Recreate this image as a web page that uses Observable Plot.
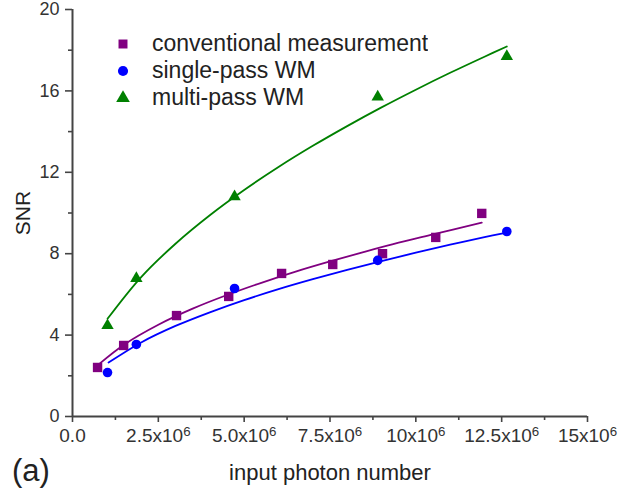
<!DOCTYPE html>
<html>
<head>
<meta charset="utf-8">
<script src="https://cdn.jsdelivr.net/npm/d3@7"></script>
<script src="https://cdn.jsdelivr.net/npm/@observablehq/plot@0.6"></script>
<style>
  html, body { margin: 0; padding: 0; background: #fff; }
  #wrap { position: relative; width: 631px; height: 488px; font-family: "Liberation Sans", Arial, sans-serif; }
  #legend { position: absolute; left: 114px; top: 30px; width: 460px; }
  #legend .lg-swatch { font-size: 23px; height: 27px; padding-bottom: 0; color: #222; font-family: "Liberation Sans", Arial, sans-serif; }
  #legend .lg-swatch > svg { margin-right: 20px; }
  #legend .lg-swatches { margin: 0; font-family: "Liberation Sans", Arial, sans-serif; }
  #panel { position: absolute; left: 12px; top: 453px; font-size: 31px; color: #222; font-family: "Liberation Sans", Arial, sans-serif; }
</style>
</head>
<body>
<div id="wrap"><div id="chart"></div><div id="legend"></div><div id="panel">(a)</div></div>
<script>
// ---- data ----
const seriesNames = ["conventional measurement", "single-pass WM", "multi-pass WM"];
const seriesColors = ["#800080", "#0000ff", "#008000"];
const seriesSymbols = ["square", "circle", "triangle"];

// measured points (photon number, SNR)
const convX = [0.73e6, 1.49e6, 3.03e6, 4.55e6, 6.09e6, 7.58e6, 9.03e6, 10.58e6, 11.92e6];
const convY = [2.41, 3.49, 4.96, 5.90, 7.03, 7.47, 8.00, 8.80, 9.98];
const singleX = [1.02e6, 1.86e6, 4.72e6, 8.89e6, 12.65e6];
const singleY = [2.16, 3.54, 6.29, 7.67, 9.09];
const multiX = [1.02e6, 1.86e6, 4.72e6, 8.89e6, 12.65e6];
const multiY = [4.47, 6.78, 10.80, 15.70, 17.70];

// fitted curves
const convFitX = [0.79e6, 1.5e6, 2.5e6, 3.5e6, 4.5e6, 5.5e6, 6.5e6, 7.5e6, 8.5e6, 9.5e6, 10.5e6, 11.92e6];
const convFitY = [2.60, 3.53, 4.51, 5.30, 5.97, 6.57, 7.12, 7.62, 8.09, 8.54, 8.95, 9.53];
const singleFitX = [1.05e6, 2e6, 3e6, 4e6, 5e6, 6e6, 7e6, 8e6, 9e6, 10e6, 11e6, 12e6, 12.65e6];
const singleFitY = [2.65, 3.64, 4.45, 5.12, 5.72, 6.26, 6.75, 7.21, 7.64, 8.05, 8.44, 8.81, 9.04];
const multiFitX = [1.02e6, 2e6, 3e6, 4e6, 5e6, 6e6, 7e6, 8e6, 9e6, 10e6, 11e6, 12e6, 12.65e6];
const multiFitY = [4.80, 6.85, 8.49, 9.89, 11.13, 12.26, 13.30, 14.27, 15.19, 16.06, 16.89, 17.68, 18.18];

// ticks
const xMajor = [0, 2.5e6, 5e6, 7.5e6, 10e6, 12.5e6, 15e6];
const xTickLabels = ["0.0", "2.5x10⁶", "5.0x10⁶", "7.5x10⁶", "10x10⁶", "12.5x10⁶", "15x10⁶"];
const xMinor = [1.25e6, 3.75e6, 6.25e6, 8.75e6, 11.25e6, 13.75e6];
const yMajor = [0, 4, 8, 12, 16, 20];
const yTickLabels = ["0", "4", "8", "12", "16", "20"];
const yMinor = [2, 6, 10, 14, 18];

// ---- build tables ----
const pts = (xs, ys, s) => xs.map((x, i) => ({x, y: ys[i], series: s}));
const conv = pts(convX, convY, seriesNames[0]);
const single = pts(singleX, singleY, seriesNames[1]);
const multi = pts(multiX, multiY, seriesNames[2]);
const convFit = pts(convFitX, convFitY, seriesNames[0]);
const singleFit = pts(singleFitX, singleFitY, seriesNames[1]);
const multiFit = pts(multiFitX, multiFitY, seriesNames[2]);

const xLab = new Map(xMajor.map((v, i) => [v, xTickLabels[i]]));
const yLab = new Map(yMajor.map((v, i) => [v, yTickLabels[i]]));
const axisColor = "#444";

const chart = Plot.plot({
  width: 631, height: 488,
  marginLeft: 72, marginRight: 44, marginTop: 9, marginBottom: 72,
  style: {fontFamily: "'Liberation Sans', Arial, sans-serif", fontSize: "18px", color: "#333", background: "#fff", overflow: "visible"},
  x: {domain: [0, 15e6]},
  y: {domain: [0, 20]},
  color: {domain: seriesNames, range: seriesColors},
  symbol: {domain: seriesNames, range: seriesSymbols},
  marks: [
    Plot.axisY(yMajor, {tickSize: 7, tickPadding: 6, tickFormat: d => yLab.get(d), stroke: axisColor, strokeWidth: 1.6, fontSize: 18, label: null}),
    Plot.axisY(yMinor, {tickSize: 4, tickFormat: () => "", stroke: axisColor, strokeWidth: 1.6, label: null}),
    Plot.axisY({ticks: [], label: "SNR", labelAnchor: "center", labelArrow: "none", labelOffset: 57, fontSize: 21, color: "#222"}),
    Plot.axisX(xMajor, {tickSize: 6, tickPadding: 6, tickFormat: d => xLab.get(d), stroke: axisColor, strokeWidth: 1.6, fontSize: 19, label: null}),
    Plot.axisX(xMinor, {tickSize: 4, tickFormat: () => "", stroke: axisColor, strokeWidth: 1.6, label: null}),
    Plot.axisX({ticks: [], label: "input photon number", labelAnchor: "center", labelArrow: "none", labelOffset: 63, fontSize: 22, color: "#222"}),
    Plot.ruleX([0], {y1: 0, y2: 20, stroke: axisColor, strokeWidth: 2}),
    Plot.ruleY([0], {x1: 0, x2: 15e6, stroke: axisColor, strokeWidth: 2}),
    Plot.line(convFit, {x: "x", y: "y", stroke: "series", strokeWidth: 1.8, curve: "catmull-rom"}),
    Plot.line(singleFit, {x: "x", y: "y", stroke: "series", strokeWidth: 1.8, curve: "catmull-rom"}),
    Plot.line(multiFit, {x: "x", y: "y", stroke: "series", strokeWidth: 1.8, curve: "catmull-rom"}),
    Plot.dot(conv, {x: "x", y: "y", fill: "series", symbol: "series", r: 5.3}),
    Plot.dot(single, {x: "x", y: "y", fill: "series", symbol: "series", r: 4.8}),
    Plot.dot(multi, {x: "x", y: "y", fill: "series", symbol: "series", r: 4.6})
  ]
});
document.getElementById("chart").appendChild(chart);

// render the exponent as a real superscript
d3.select(chart).selectAll("text").each(function () {
  const t = this.textContent;
  if (t.includes("⁶")) {
    const base = t.replace("⁶", "");
    const sel = d3.select(this);
    sel.text(base);
    sel.append("tspan").attr("dy", "-0.45em").attr("font-size", "0.7em").text("6");
  }
});

const leg = chart.legend("symbol", {columns: 1, swatchSize: 18, className: "lg"});
document.getElementById("legend").appendChild(leg);
</script>
</body>
</html>
